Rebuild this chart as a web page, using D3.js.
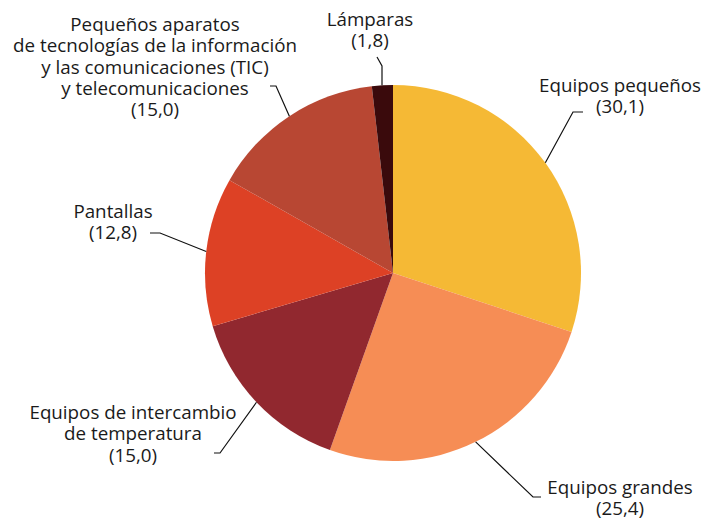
<!DOCTYPE html>
<html><head><meta charset="utf-8">
<script src="https://cdn.jsdelivr.net/npm/d3@7"></script>
<style>body{margin:0;background:#fff}svg{display:block}</style>
</head><body>
<svg id="c" width="702" height="519"></svg>
<script>
const categories = ["Equipos pequeños","Equipos grandes","Equipos de intercambio de temperatura","Pantallas","Pequeños aparatos de tecnologías de la información y las comunicaciones (TIC) y telecomunicaciones","Lámparas"];
const values = [30.1, 25.4, 15.0, 12.8, 15.0, 1.8];
const valueLabels = ["(30,1)","(25,4)","(15,0)","(12,8)","(15,0)","(1,8)"];
const labelLines = [
  ["Equipos pequeños"],
  ["Equipos grandes"],
  ["Equipos de intercambio","de temperatura"],
  ["Pantallas"],
  ["Pequeños aparatos","de tecnologías de la información","y las comunicaciones (TIC)","y telecomunicaciones"],
  ["Lámparas"]
];
const colors = ["#F5B935","#F68D55","#91282F","#DD4125","#B84733","#3A0A0C"];

// label layout: text center x, first baseline y, leader polyline (from text side toward pie)
const layout = [
  {x:620, y:92,  leader:[[583,112],[573,112]]},
  {x:620, y:494, leader:[[541,497],[533,497]]},
  {x:133, y:419, leader:[[214,453],[220,453]]},
  {x:113, y:218, leader:[[150,233],[160,233]]},
  {x:155, y:31,  leader:[[270,86],[276,86]]},
  {x:370, y:26,  leader:[[377,57],[382,66]]}
];

const svg = d3.select("#c");
const cx = 393, cy = 273, r = 188;
const g = svg.append("g").attr("transform",`translate(${cx},${cy})`);
const pie = d3.pie().sort(null).value(d=>d);
const arcs = pie(values);
const arc = d3.arc().innerRadius(0).outerRadius(r);
g.selectAll("path.slice").data(arcs).enter().append("path")
  .attr("class","slice").attr("d",arc).attr("fill",(d,i)=>colors[i]);

const lh = 21.3;
const targetW = 284; // width of the widest reference line
let fs = 17.5;
arcs.forEach((a,i)=>{
  const L = layout[i];
  const mid = (a.startAngle+a.endAngle)/2;
  const ex = cx + r*Math.sin(mid), ey = cy - r*Math.cos(mid);
  const pts = L.leader.concat([[ex,ey]]);
  if (i===5) { pts[2]=[pts[1][0], ey]; }
  svg.append("path").attr("d", d3.line()(pts))
    .attr("fill","none").attr("stroke","#111").attr("stroke-width",1.2);
  const t = svg.append("text").attr("class","lbl").attr("text-anchor","middle")
    .attr("font-family","'Open Sans', Lato, sans-serif").attr("font-size",fs).attr("fill","#1a1a1a");
  const lines = labelLines[i].concat([valueLabels[i]]);
  lines.forEach((s,k)=>{
    t.append("tspan").attr("x",L.x).attr("y",L.y+k*lh).text(s);
  });
});
// fit font size to reference's widest line
const probe = svg.selectAll("text.lbl tspan").filter(function(){return this.textContent==="de tecnologías de la información";}).node();
if (probe) {
  const w = probe.getComputedTextLength();
  if (w>0) { fs = fs*targetW/w; svg.selectAll("text.lbl").attr("font-size",fs); }
}
</script>
</body></html>
